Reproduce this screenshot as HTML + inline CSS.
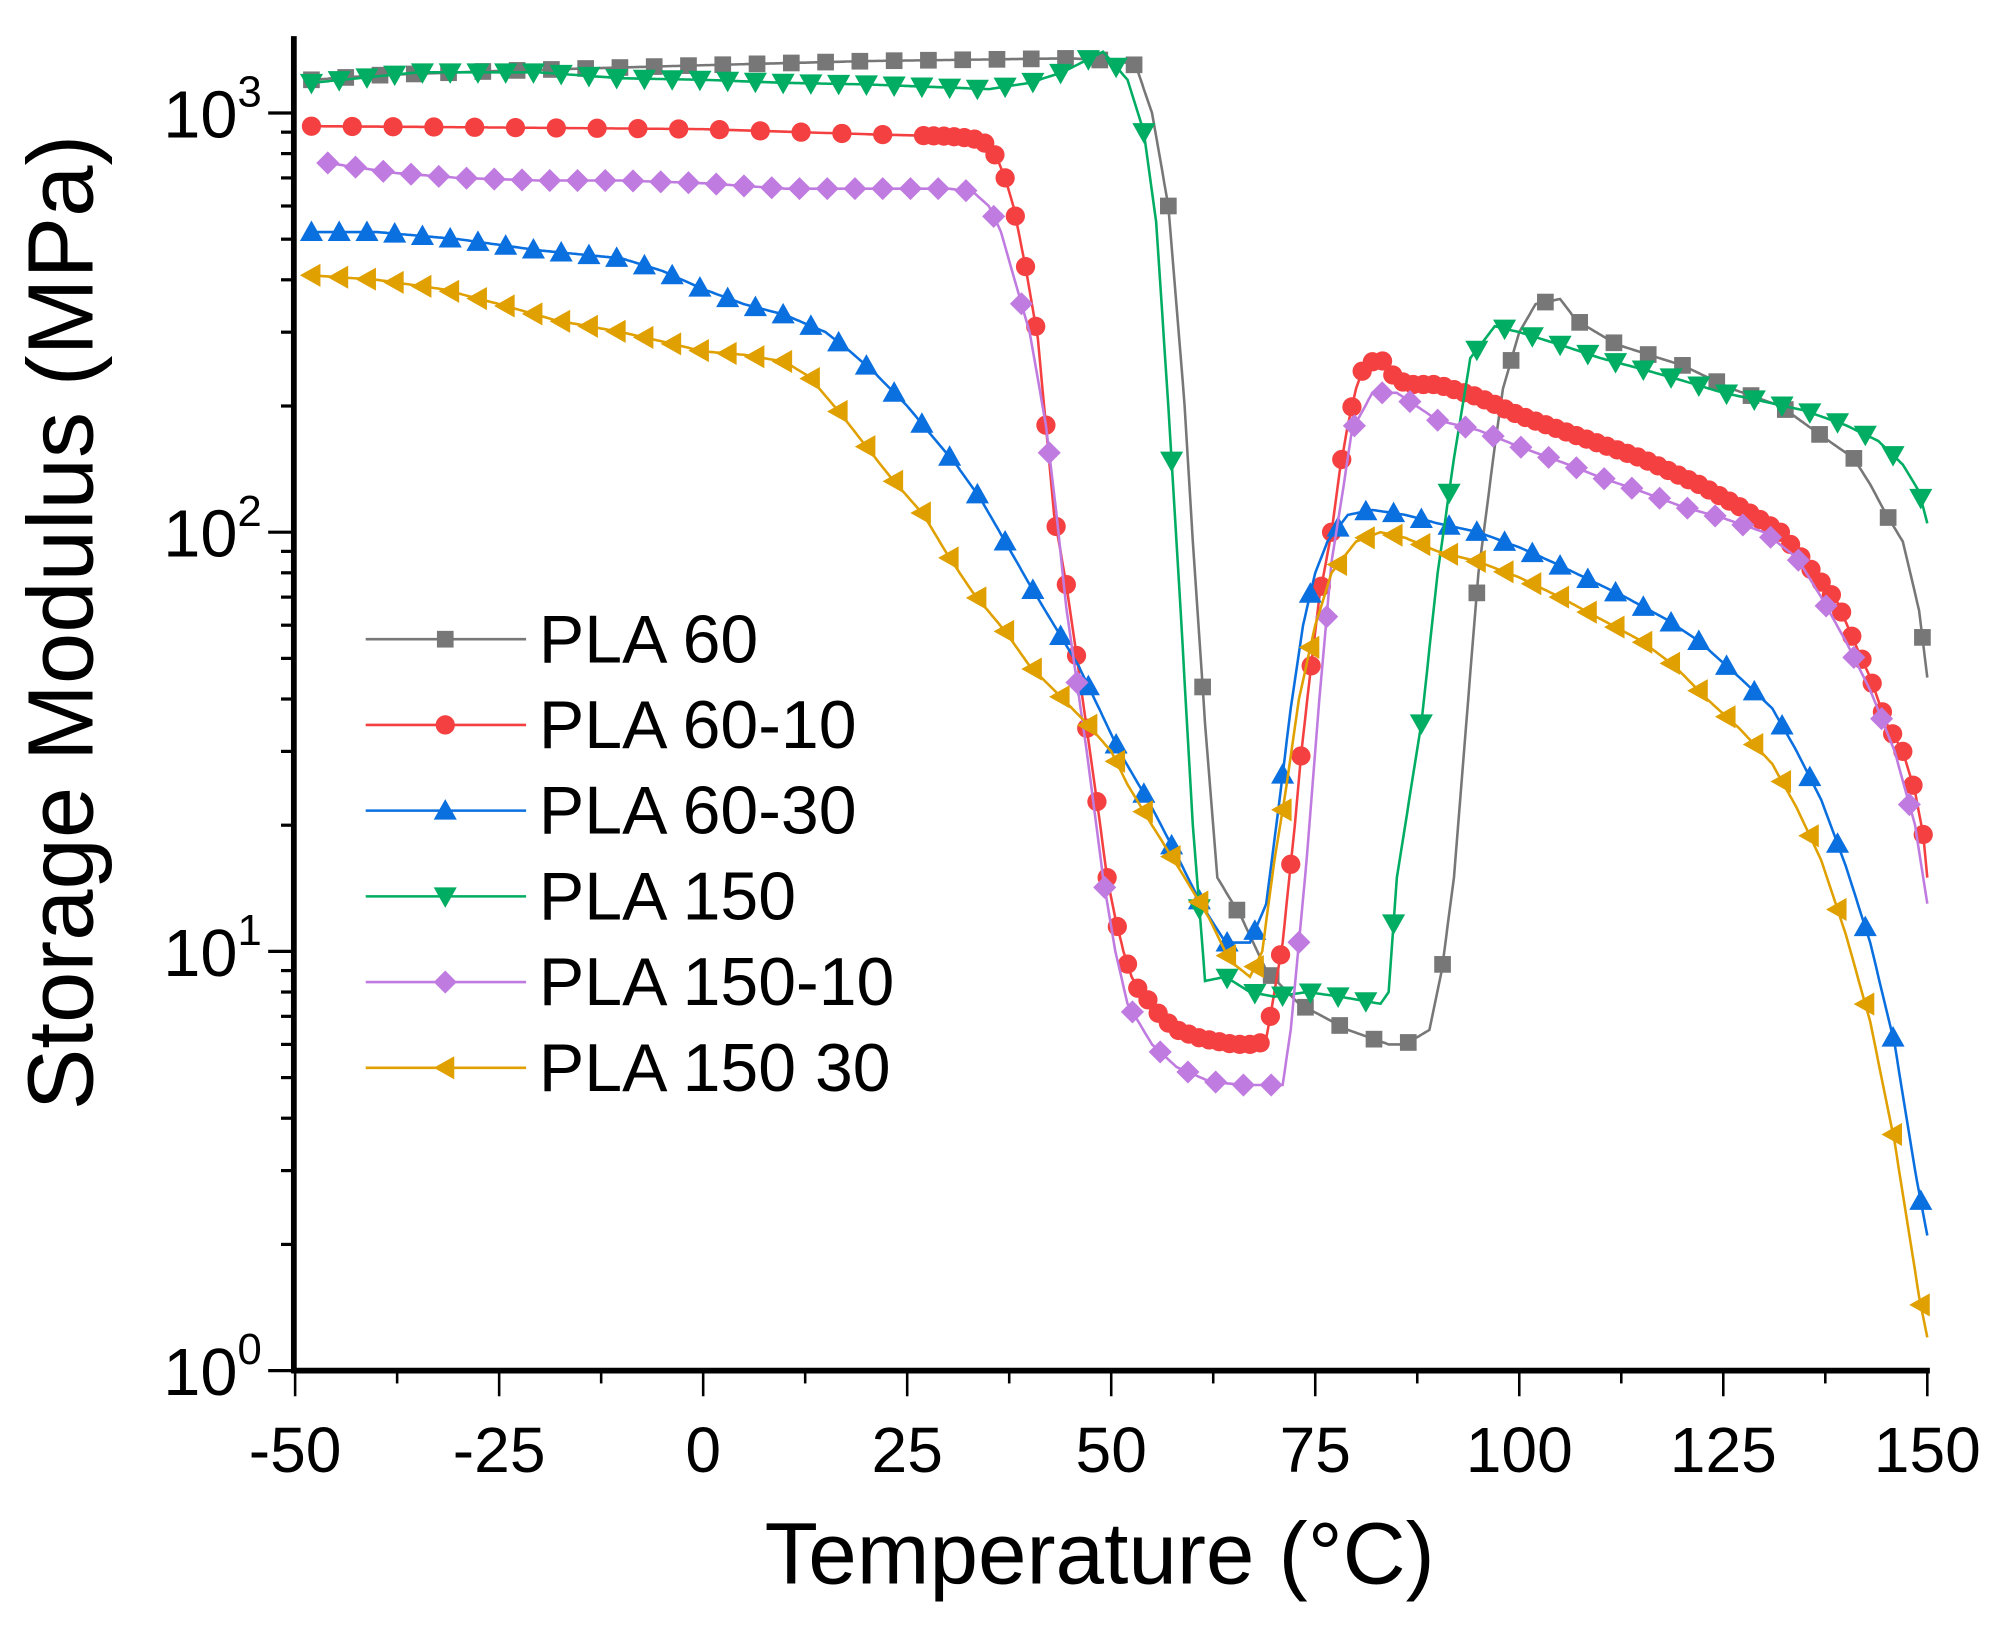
<!DOCTYPE html>
<html><head><meta charset="utf-8"><style>
html,body{margin:0;padding:0;background:#fff}
svg{display:block}
text{font-family:"Liberation Sans",Arial,sans-serif;fill:#000}
</style></head><body>
<svg id="c" width="2012" height="1630" viewBox="0 0 1568 1270" xmlns="http://www.w3.org/2000/svg">
<g id="plot"></g>
<g id="axes"></g>
</svg>
<script>
const NS="http://www.w3.org/2000/svg";
const X=t=>230+6.36*(t+50);
const Y=v=>1068-326.7*Math.log10(v);
const plot=document.getElementById('plot'),axes=document.getElementById('axes');
function el(tag,attrs,parent,txt){const e=document.createElementNS(NS,tag);for(const k in attrs)e.setAttribute(k,attrs[k]);if(txt!==undefined)e.textContent=txt;parent.appendChild(e);return e;}
const S=[
{n:"PLA 60",c:"#777777",m:"sq",step:4.2,d:[[-48,1200],[-40,1230],[-25,1260],[0,1300],[20,1330],[45,1350],[51,1330],[53,1300],[55,1000],[57,600],[59,200],[60,95],[61.5,35],[63,15],[66,12],[69,9],[73,7.5],[79,6.5],[84,6],[86,6],[89,6.5],[90.5,9],[92,15],[93.5,35],[95,80],[97,160],[98,220],[100,300],[102,350],[105,360],[107,320],[112,280],[120,250],[126,220],[132,200],[137,170],[141,150],[143,130],[145,110],[147,95],[149,65],[150,45]]},
{n:"PLA 60-10",c:"#f44040",m:"ci",step:1.25,d:[[-48,930],[-30,925],[0,915],[20,890],[30,880],[33,870],[35,840],[36,780],[37,700],[38,600],[39.5,430],[41,290],[42,180],[43,110],[44.5,75],[45.5,55],[46.5,40],[47.5,29],[48.5,21],[49.5,15],[50.5,12],[51.5,10],[52.5,8.7],[53.5,8],[55,7.5],[56,7],[58,6.5],[61,6.2],[65,6],[68,6],[69,6.2],[69.5,7],[71,10.5],[72.5,20],[73.3,30],[74.5,48],[75.5,70],[77,100],[78,140],[79,180],[80,220],[81,250],[83,260],[85,230],[87,225],[90,225],[95,210],[100,190],[107,170],[115,150],[122,130],[127,115],[132,100],[135,85],[139,68],[141,55],[143,45],[145,35],[147,30],[148.5,24],[149.5,19],[150,15]]},
{n:"PLA 60-30",c:"#0a6fdf",m:"tu",step:3.4,d:[[-48,520],[-40,520],[-30,500],[-20,470],[-10,450],[-5,420],[0,380],[5,350],[10,330],[15,300],[18,270],[21,240],[25,200],[28,170],[31,145],[34,120],[37,95],[40,75],[43,60],[46,48],[48.5,38],[51,30],[55,22],[58,17],[61,13],[64,10.5],[67,10.5],[69,13],[70.5,22],[72,38],[73.5,60],[75,80],[76.5,95],[79,110],[82,113],[86,110],[90,105],[95,100],[100,92],[104,85],[108,78],[113,70],[118,62],[122,55],[127,45],[131,38],[134,30],[137,23],[140,16],[143,10.5],[146,6],[148.5,3],[150,2.1]]},
{n:"PLA 150",c:"#00ad62",m:"td",step:3.4,d:[[-48,1180],[-35,1250],[-20,1250],[-10,1210],[0,1200],[10,1180],[20,1170],[30,1150],[35,1140],[40,1180],[44,1250],[49,1400],[52,1200],[54,900],[55.5,550],[57,200],[58.5,65],[60,20],[61.5,8.5],[64,8.7],[67,8],[70,7.8],[74,8],[78,7.8],[83,7.5],[84,8],[85,15],[88,35],[90,80],[92,150],[94,260],[97,310],[100,300],[105,280],[110,260],[115,245],[120,230],[125,215],[130,205],[135,195],[140,180],[144,165],[147,145],[149,125],[150,105]]},
{n:"PLA 150-10",c:"#c07be0",m:"di",step:3.4,d:[[-46,760],[-38,720],[-30,700],[-20,690],[-10,690],[0,680],[10,660],[20,660],[30,660],[33,650],[35,600],[36.5,520],[38,410],[40,300],[42,180],[43.3,110],[44.5,66],[47,30],[49,15],[50.5,10],[52,7.5],[55,6],[58,5.3],[62,4.9],[66,4.8],[71,4.8],[72,6.5],[74,17],[75.5,40],[77,85],[78.5,130],[79.5,175],[82,215],[85,215],[90,185],[95,175],[100,160],[106,145],[110,135],[115,125],[120,115],[125,108],[130,100],[134,87],[137,70],[140,55],[143,42],[146,30],[148.5,20],[150,13]]},
{n:"PLA 150 30",c:"#e0a000",m:"tl",step:3.4,d:[[-48,410],[-40,400],[-32,380],[-25,350],[-18,320],[-10,300],[-5,285],[0,270],[5,265],[10,255],[13,235],[17,190],[20,160],[23,135],[27,110],[30,88],[33,72],[37,58],[40,48],[43,42],[47,35],[50,30],[52,25],[55,20],[59,15],[62,12],[64.5,9.5],[67,8.7],[68.5,10],[70,16.5],[71.5,25],[73,40],[75,60],[77,80],[80,95],[83,100],[86,97],[90,90],[95,85],[100,78],[105,70],[110,62],[115,55],[119,48],[123,40],[127,34],[131,28],[134,22],[137,16.5],[140,11],[143,6.8],[146,3.5],[149,1.5],[150,1.2]]}
];
function interp(d,t){for(let i=0;i<d.length-1;i++){if(t>=d[i][0]&&t<=d[i+1][0]){const f=(t-d[i][0])/(d[i+1][0]-d[i][0]);return Math.pow(10,Math.log10(d[i][1])*(1-f)+Math.log10(d[i+1][1])*f);}}return null;}
function marker(type,x,y,c,g){
 if(type==="sq")el('rect',{x:x-6.5,y:y-6.5,width:13,height:13,fill:c},g);
 else if(type==="ci")el('circle',{cx:x,cy:y,r:7.5,fill:c},g);
 else if(type==="tu")el('polygon',{points:`${x},${y-9} ${x+9},${y+7} ${x-9},${y+7}`,fill:c},g);
 else if(type==="td")el('polygon',{points:`${x},${y+9} ${x+9},${y-7} ${x-9},${y-7}`,fill:c},g);
 else if(type==="di")el('polygon',{points:`${x},${y-9} ${x+9},${y} ${x},${y+9} ${x-9},${y}`,fill:c},g);
 else if(type==="tl")el('polygon',{points:`${x-9},${y} ${x+7},${y-9} ${x+7},${y+9}`,fill:c},g);}
S.forEach(s=>{
 const p=[];const t0=s.d[0][0],t1=s.d[s.d.length-1][0];
 for(let t=t0;t<=t1;t+=0.25){p.push(X(t).toFixed(1)+","+Y(interp(s.d,t)).toFixed(1));}
 el('polyline',{points:p.join(" "),fill:"none",stroke:s.c,"stroke-width":2},plot);
 for(let t=t0;t<=t1-0.5;t+= (s.m==="ci"&&t<27?5:s.step)){const v=interp(s.d,t);if(v)marker(s.m,X(t),Y(v),s.c,plot);}
});
S.forEach((s,i)=>{const y=498+66.8*i;el('line',{x1:285,y1:y,x2:410,y2:y,stroke:s.c,"stroke-width":2},axes);marker(s.m,347,y,s.c,axes);
 el('text',{x:420,y:y+18,"font-size":53},axes,s.n);});
el('line',{x1:229,y1:28,x2:229,y2:1070,stroke:"#000","stroke-width":4.5},axes);
el('line',{x1:227,y1:1068,x2:1504,y2:1068,stroke:"#000","stroke-width":4.5},axes);
for(let t=-50;t<=150;t+=12.5){const x=X(t);const maj=(t%25===0);el('line',{x1:x,y1:1068,x2:x,y2:1068+(maj?20:10),stroke:"#000","stroke-width":2},axes);
 if(maj)el('text',{x:x,y:1147,"font-size":50,"text-anchor":"middle"},axes,String(t));}
for(let e=0;e<=3;e++){for(let k=1;k<=9;k++){const v=Math.pow(10,e)*k;const y=Y(v);if(y<28)continue;if(e===3&&k>1)continue;
 el('line',{x1:229,y1:y,x2:229-(k===1?20:10),y2:y,stroke:"#000","stroke-width":2.5},axes);}
 const y=Y(Math.pow(10,e));const t=el('text',{x:204,y:y+19,"font-size":52,"text-anchor":"end"},axes);
 t.textContent="10";const s=document.createElementNS(NS,'tspan');s.setAttribute('dy',-24);s.setAttribute('font-size',34);s.textContent=String(e);t.appendChild(s);}
el('text',{x:857,y:1234,"font-size":68,"text-anchor":"middle"},axes,"Temperature (°C)");
el('text',{x:0,y:0,"font-size":72,"text-anchor":"middle",transform:"translate(72,485) rotate(-90)"},axes,"Storage Modulus (MPa)");
</script>
</body></html>
